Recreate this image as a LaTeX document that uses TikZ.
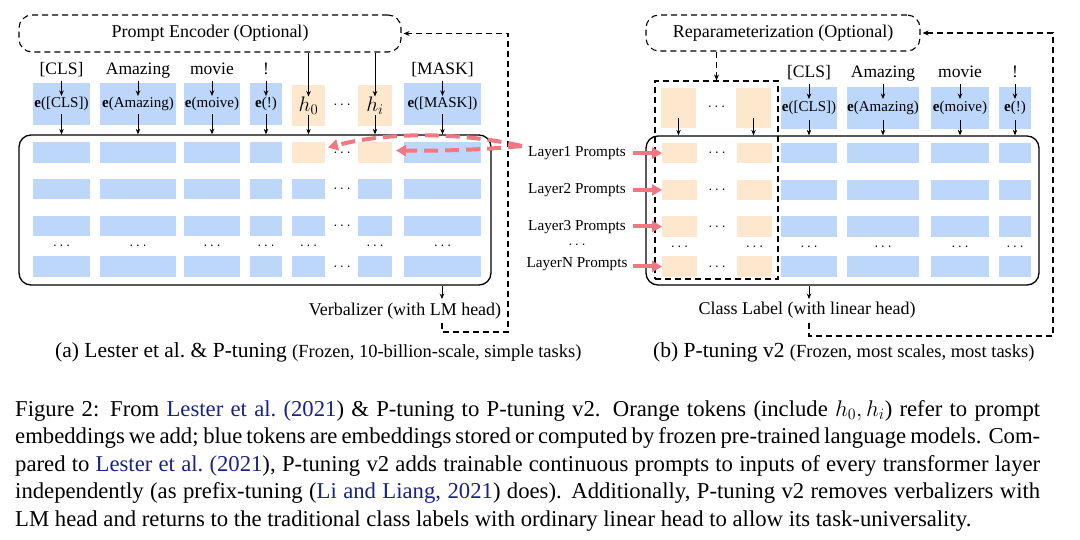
\documentclass[tikz,border=0pt]{standalone}
\usepackage{fix-cm}
\usepackage{fontspec}
\setmainfont{Liberation Serif}
\usetikzlibrary{arrows.meta,calc}
\definecolor{blueC}{RGB}{189,215,251}
\definecolor{orC}{RGB}{253,232,205}
\definecolor{redC}{RGB}{240,120,128}
\definecolor{citeC}{RGB}{25,35,130}
\tikzset{
  bx/.style={draw=none, inner sep=0pt, outer sep=0pt, font=\fontsize{15}{18}\selectfont},
  lbl/.style={inner sep=0pt, anchor=base, font=\fontsize{17.5}{20}\selectfont},
  laylbl/.style={inner sep=0pt, font=\fontsize{15.2}{18}\selectfont},
  arr/.style={draw=black, line width=0.8pt, -{Stealth[length=5.5pt,width=4.5pt]}},
  dsh/.style={draw=black, line width=1.1pt, dash pattern=on 6pt off 4pt},
  dsharr/.style={dsh, -{Stealth[length=6pt,width=5pt]}},
  redarr/.style={draw=redC, line width=4pt, -{Triangle[length=10pt,width=11pt]}},
  reddash/.style={redarr, dash pattern=on 14pt off 7pt},
  mainbox/.style={draw=black, line width=1.3pt, rounded corners=12pt, inner sep=0pt},
  encbox/.style={draw=black, line width=1.1pt, dash pattern=on 6pt off 4pt, rounded corners=13pt, inner sep=0pt, font=\fontsize{18}{21}\selectfont},
  dotsn/.style={inner sep=0pt, anchor=base, font=\fontsize{15}{18}\selectfont},
  capt/.style={inner sep=0pt, anchor=base west, font=\fontsize{22.7}{27.5}\selectfont},
}
\newcommand{\cell}[7]{\node[bx, fill=#2, minimum width={(#5)-(#3)}, minimum height={(#6)-(#4)}] (#1) at ({((#3)+(#5))/2},{((#4)+(#6))/2}) {#7};}
\newcommand{\dotsat}[2]{\node[dotsn] at (#1,{(#2)+3.75}) {$\cdots$};}
\begin{document}
\begin{tikzpicture}[x=1pt,y=-1pt]
\useasboundingbox (0,0) rectangle (1080,540);
\fill[white] (0,0) rectangle (1080,540);

% ================= LEFT PANEL =================
\node[encbox, minimum width=382pt, minimum height=37pt] (PE) at (210,33.5) {Prompt Encoder (Optional)};
\node[mainbox, minimum width=472pt, minimum height=150pt] (mainL) at (255,210) {};

% token labels
\node[lbl] (lCLS) at (61.5,75) {[CLS]};
\node[lbl] (lAma) at (138,75) {Amazing};
\node[lbl] (lmov) at (212,75) {movie};
\node[lbl] (lexc) at (266,75) {!};
\node[lbl] (lMASK) at (442.5,75) {[MASK]};

% embedding row
\cell{Le1}{blueC}{33}{83}{90}{125}{\textbf{e}([CLS])}
\cell{Le2}{blueC}{100}{83}{176}{125}{\textbf{e}(Amazing)}
\cell{Le3}{blueC}{184}{83}{240}{125}{\textbf{e}(moive)}
\cell{Le4}{blueC}{250}{83}{282}{125}{\textbf{e}(!)}
\cell{Le5}{orC}{292}{85}{325}{126}{\fontsize{21}{21}\selectfont$h_0$}
\cell{Le6}{orC}{358}{85}{392}{126}{\fontsize{21}{21}\selectfont$h_i$}
\cell{Le7}{blueC}{404}{83}{481}{125}{\textbf{e}([MASK])}
\dotsat{342}{105}

% rows
\foreach \r/\ya/\yb in {1/142/163, 2/179/199, 3/216/236, 4/256/277} {
  \foreach \c/\xa/\xb in {1/33/90, 2/100/176, 3/184/240, 4/250/282, 7/404/481} {
    \cell{L\r\c}{blueC}{\xa}{\ya}{\xb}{\yb}{}
  }
  \dotsat{342}{(\ya+\yb)/2}
}
\foreach \r/\ya/\yb/\cf in {1/142/163/orC, 2/179/199/blueC, 3/216/236/blueC, 4/256/277/blueC} {
  \cell{L\r5}{\cf}{292}{\ya}{325}{\yb}{}
  \cell{L\r6}{\cf}{358}{\ya}{392}{\yb}{}
}
\foreach \x in {61.5,138,212,266,308.5,375,442.5} { \dotsat{\x}{246} }

% arrows left
\foreach \n in {1,2,3,4,7} {
  \draw[arr] ($(Le\n.north)+(0,-2)$) -- ($(Le\n.center)+(0,-8)$);
}
\draw[arr] (PE.south -| Le5.center) -- ($(Le5.center)+(0,-9)$);
\draw[arr] (PE.south -| Le6.center) -- ($(Le6.center)+(0,-9)$);
\foreach \n in {1,...,7} {
  \draw[arr] ($(Le\n.center)+(0,10)$) -- (Le\n.center |- mainL.north);
}

% verbalizer
\node[lbl, font=\fontsize{18}{21}\selectfont] (verb) at (405,316) {Verbalizer (with LM head)};
\coordinate (vtip) at (442,299);
\draw[arr] (mainL.south -| vtip) -- (vtip);
\coordinate (fbL) at (442,323);
\draw[dsharr, shorten >=2pt] (fbL) |- (508,332) |- (PE.east);

% red dashed arrows
\coordinate (rs) at (522,146);
\draw[reddash] (rs) .. controls (470,134) and (395,130) .. ($(L15.east)+(3,-5)$);
\draw[reddash] (rs) .. controls (480,150) and (440,151) .. ($(L16.east)+(4,-2)$);

% caption (a)
\node[inner sep=0pt, anchor=base west] (capA) at (55,358) {\fontsize{21.5}{25}\selectfont (a) Lester et al.\ \& P-tuning \fontsize{18.5}{22}\selectfont(Frozen, 10-billion-scale, simple tasks)};

% ================= RIGHT PANEL =================
\node[encbox, minimum width=274pt, minimum height=36pt] (Rep) at (783,33) {Reparameterization (Optional)};
\node[mainbox, minimum width=393pt, minimum height=149pt] (mainR) at (842.5,210.5) {};
\node[draw=black, line width=1.1pt, dash pattern=on 6pt off 4pt, inner sep=0pt, minimum width=123pt, minimum height=198pt] (dr) at (716.5,180) {};
\draw[dsharr] (Rep.south -| dr.north) -- (dr.north);

\node[lbl] (rCLS) at (809,78) {[CLS]};
\node[lbl] (rAma) at (883,78) {Amazing};
\node[lbl] (rmov) at (960,78) {movie};
\node[lbl] (rexc) at (1015,78) {!};

\cell{Ro1}{orC}{661}{88}{696}{128}{}
\cell{Ro2}{orC}{736}{88}{771}{128}{}
\dotsat{716.5}{107}
\cell{Re1}{blueC}{781}{87}{837}{129}{\textbf{e}([CLS])}
\cell{Re2}{blueC}{847}{87}{919}{129}{\textbf{e}(Amazing)}
\cell{Re3}{blueC}{931}{87}{989}{129}{\textbf{e}(moive)}
\cell{Re4}{blueC}{999}{87}{1031}{129}{\textbf{e}(!)}

\foreach \r/\ya/\yb in {1/143/163, 2/180/200, 3/216/237, 4/256/277} {
  \cell{R\r1}{orC}{662}{\ya}{697}{\yb}{}
  \cell{R\r2}{orC}{737}{\ya}{772}{\yb}{}
  \cell{R\r3}{blueC}{781}{\ya}{837}{\yb}{}
  \cell{R\r4}{blueC}{847}{\ya}{919}{\yb}{}
  \cell{R\r5}{blueC}{931}{\ya}{989}{\yb}{}
  \cell{R\r6}{blueC}{999}{\ya}{1031}{\yb}{}
  \dotsat{717}{(\ya+\yb)/2}
}
\foreach \x in {679.5,754.5,809,883,960,1015} { \dotsat{\x}{247} }

\foreach \n in {1,2} {
  \draw[arr] ($(Ro\n.center)+(0,10)$) -- (Ro\n.center |- mainR.north);
}
\foreach \n in {1,2,3,4} {
  \draw[arr] ($(Re\n.north)+(0,-3)$) -- ($(Re\n.center)+(0,-9)$);
  \draw[arr] ($(Re\n.center)+(0,12)$) -- (Re\n.center |- mainR.north);
}

% layer labels
\node[laylbl] (lay1) at (577,153) {Layer1 Prompts};
\node[laylbl] (lay2) at (577,190) {Layer2 Prompts};
\node[laylbl] (lay3) at (577,227) {Layer3 Prompts};
\dotsat{577}{245}
\node[laylbl] (lay4) at (577,264) {LayerN Prompts};
\foreach \r in {1,2,3,4} {
  \draw[redarr] ($(R\r1.west)+(-29,0)$) -- (R\r1.west);
}

% class label
\node[lbl, font=\fontsize{18}{21}\selectfont] (cls) at (807,315) {Class Label (with linear head)};
\coordinate (ctip) at (809,299);
\draw[arr] (mainR.south -| ctip) -- (ctip);
\coordinate (fbR) at (809,323);
\draw[dsharr, shorten >=2pt] (fbR) |- (1053,336) |- (Rep.east);

% caption (b)
\node[inner sep=0pt, anchor=base west] (capB) at (653,358) {\fontsize{21.5}{25}\selectfont (b) P-tuning v2 \fontsize{18.5}{22}\selectfont(Frozen, most scales, most tasks)};

% ================= FIGURE CAPTION =================
\node[capt] (c1) at (15,416) {\makebox[1025pt][s]{Figure 2: From \textcolor{citeC}{Lester et al.\ (2021}) \& P-tuning to P-tuning v2. Orange tokens (include $h_0, h_i$) refer to prompt}};
\node[capt] (c2) at (15,443.5) {\makebox[1025pt][s]{embeddings we add; blue tokens are embeddings stored or computed by frozen pre-trained language models. Com-}};
\node[capt] (c3) at (15,471) {\makebox[1025pt][s]{pared to \textcolor{citeC}{Lester et al.\ (2021}), P-tuning v2 adds trainable continuous prompts to inputs of every transformer layer}};
\node[capt] (c4) at (15,498.5) {\makebox[1025pt][s]{independently (as prefix-tuning (\textcolor{citeC}{Li and Liang, 2021}) does). Additionally, P-tuning v2 removes verbalizers with}};
\node[capt] (c5) at (15,526) {LM head and returns to the traditional class labels with ordinary linear head to allow its task-universality.};
\end{tikzpicture}
\end{document}
